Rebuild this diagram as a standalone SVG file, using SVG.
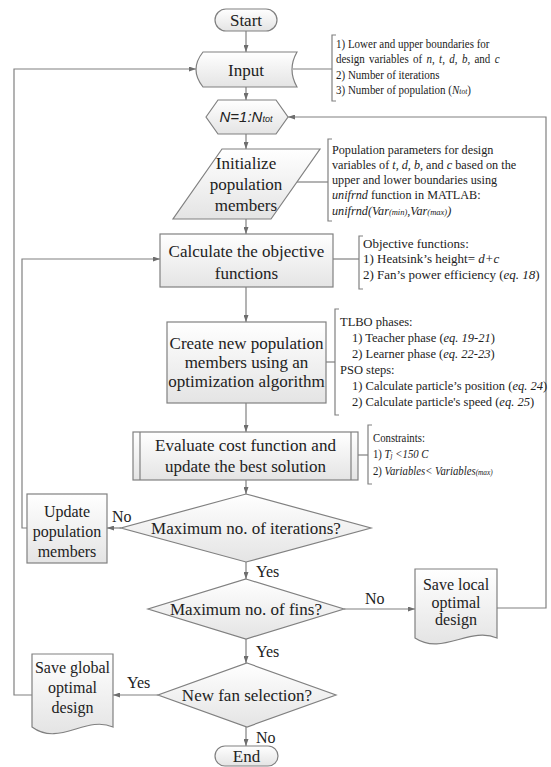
<svg xmlns="http://www.w3.org/2000/svg" width="551" height="767" viewBox="0 0 551 767">
<defs>
<linearGradient id="g" x1="0" y1="0" x2="0" y2="1">
<stop offset="0" stop-color="#ffffff"/>
<stop offset="1" stop-color="#e4e4e4"/>
</linearGradient>
<marker id="a" markerWidth="7" markerHeight="5" refX="7" refY="2.5" orient="auto" markerUnits="userSpaceOnUse">
<path d="M0,0 L7,2.5 L0,5 z" fill="#6e6e6e"/>
</marker>
</defs>
<style>
.n{fill:url(#g);stroke:#808080;stroke-width:1.2}
.t{font-family:"Liberation Serif","Times New Roman",serif;font-size:17px;fill:#222;text-anchor:middle}
.s{font-family:"Liberation Serif","Times New Roman",serif;font-size:16px;fill:#222;text-anchor:middle}
.l{font-family:"Liberation Serif","Times New Roman",serif;font-size:16px;fill:#222}
.an{font-family:"Liberation Serif","Times New Roman",serif;font-size:12.5px;fill:#222}
.i{font-style:italic}
.sm{font-size:8.5px}
.c{fill:none;stroke:#808080;stroke-width:1.2}
.ca{fill:none;stroke:#808080;stroke-width:1.2;marker-end:url(#a)}
</style>

<g id="connectors">
<path class="ca" d="M246,31 V52"/>
<path class="ca" d="M246,87 V100"/>
<path class="ca" d="M246,134 V149"/>
<path class="ca" d="M246,219 V234"/>
<path class="ca" d="M246,287 V322"/>
<path class="ca" d="M246,403 V432"/>
<path class="ca" d="M246,480 V494"/>
<path class="ca" d="M121,528 H107"/>
<path class="ca" d="M27,528 H22 V259 H160"/>
<path class="ca" d="M246,562 V579"/>
<path class="ca" d="M344,609 H415"/>
<path class="ca" d="M497,608 H546 V117 H288"/>
<path class="ca" d="M246,639 V663"/>
<path class="ca" d="M158,695 H113"/>
<path class="ca" d="M32,695 H14 V69 H196"/>
<path class="ca" d="M246,727 V746"/>
<path class="c" d="M293,69 H332"/>
<path class="c" d="M297,182 H328"/>
<path class="c" d="M333,259 H359"/>
<path class="c" d="M326,362 H335"/>
<path class="c" d="M358,455 H368"/>
<path class="c" d="M336,35 H332 V101 H336"/>
<path class="c" d="M332,139 H328 V221 H332"/>
<path class="c" d="M363,236 H359 V289 H363"/>
<path class="c" d="M339,309 H335 V415 H339"/>
<path class="c" d="M372,425 H368 V484 H372"/>
</g>

<g id="start">
<rect class="n" x="215" y="9" width="62" height="22" rx="11"/>
<text class="t" x="246" y="26">Start</text>
</g>

<g id="input">
<path class="n" d="M203,52 H297 Q287,69.5 297,87 H203 Q189,69.5 203,52 Z"/>
<text class="t" x="246" y="76">Input</text>
</g>

<g id="input-note" transform="translate(336,0) scale(0.88,1) translate(-336,0)">
<text class="an" x="336" y="48">1) Lower and upper boundaries for</text>
<text class="an" x="336" y="63.5" style="word-spacing:1.8px">design variables of <tspan class="i">n</tspan>, <tspan class="i">t</tspan>, <tspan class="i">d</tspan>, <tspan class="i">b</tspan>, and <tspan class="i">c</tspan></text>
<text class="an" x="336" y="79">2) Number of iterations</text>
<text class="an" x="336" y="94.5">3) Number of population (<tspan class="i">N</tspan><tspan class="i sm">tot</tspan>)</text>
</g>

<g id="loop">
<path class="n" d="M206,117 L218,100 H276 L288,117 L276,134 H218 Z"/>
<text x="246" y="122" style="font-family:'Liberation Sans',Arial,sans-serif;font-size:15px;font-style:italic;fill:#222;text-anchor:middle">N=1:N<tspan style="font-size:9px">tot</tspan></text>
</g>

<g id="initialize">
<path class="n" d="M222,149 H320 L271,219 H173 Z"/>
<text class="t" x="246" y="169">Initialize</text>
<text class="t" x="246" y="190">population</text>
<text class="t" x="246" y="211">members</text>
</g>

<g id="init-note">
<text class="an" style="font-size:12.2px" x="332" y="154">Population parameters for design</text>
<text class="an" style="font-size:12.2px" x="332" y="169">variables of <tspan class="i">t, d, b,</tspan> and <tspan class="i">c</tspan> based on the</text>
<text class="an" style="font-size:12.2px" x="332" y="184">upper and lower boundaries using</text>
<text class="an" style="font-size:12.2px" x="332" y="199"><tspan class="i">unifrnd</tspan> function in MATLAB:</text>
<text class="an i" style="font-size:12.2px" x="332" y="215">unifrnd(Var<tspan class="sm">(min)</tspan>,Var<tspan class="sm">(max)</tspan>)</text>
</g>

<g id="calculate">
<rect class="n" x="160" y="234" width="173" height="53"/>
<text class="t" x="246.5" y="257">Calculate the objective</text>
<text class="t" x="246.5" y="279">functions</text>
</g>

<g id="calc-note">
<text class="an" style="font-size:13px" x="363" y="248">Objective functions:</text>
<text class="an" style="font-size:13px" x="363" y="263">1) Heatsink’s height= <tspan class="i">d+c</tspan></text>
<text class="an" style="font-size:13px" x="363" y="279">2) Fan’s power efficiency (<tspan class="i">eq. 18</tspan>)</text>
</g>

<g id="create">
<rect class="n" x="167" y="322" width="159" height="81"/>
<text class="t" x="246.5" y="349">Create new population</text>
<text class="t" x="246.5" y="368">members using an</text>
<text class="t" x="246.5" y="387">optimization algorithm</text>
</g>

<g id="create-note">
<text class="an" x="340" y="326">TLBO phases:</text>
<text class="an" x="352" y="342">1) Teacher phase (<tspan class="i">eq. 19-21</tspan>)</text>
<text class="an" x="352" y="358">2) Learner phase (<tspan class="i">eq. 22-23</tspan>)</text>
<text class="an" x="340" y="374">PSO steps:</text>
<text class="an" x="352" y="390">1) Calculate particle’s position (<tspan class="i">eq. 24</tspan>)</text>
<text class="an" x="352" y="406">2) Calculate particle's speed (<tspan class="i">eq. 25</tspan>)</text>
</g>

<g id="evaluate">
<rect class="n" x="133" y="432" width="225" height="48"/>
<path class="c" d="M140,432 V480 M351,432 V480"/>
<text class="t" x="245.5" y="451">Evaluate cost function and</text>
<text class="t" x="245.5" y="472">update the best solution</text>
</g>

<g id="eval-note" transform="translate(373,0) scale(0.86,1) translate(-373,0)">
<text class="an" x="373" y="442">Constraints:</text>
<text class="an" x="373" y="458">1) <tspan class="i">T</tspan><tspan class="i sm">j</tspan><tspan class="i"> &lt;150 C</tspan></text>
<text class="an" x="373" y="475">2) <tspan class="i">Variables&lt; Variables</tspan><tspan class="i sm">(max)</tspan></text>
</g>

<g id="max-iter">
<path class="n" d="M246,494 L371,528 L246,562 L121,528 Z"/>
<text class="t" x="246" y="534">Maximum no. of iterations?</text>
</g>

<g id="update">
<rect class="n" x="27" y="494" width="80" height="69"/>
<text class="s" x="67" y="517">Update</text>
<text class="s" x="67" y="537">population</text>
<text class="s" x="67" y="557">members</text>
</g>

<g id="max-fins">
<path class="n" d="M246,579 L344,609 L246,639 L148,609 Z"/>
<text class="t" x="246" y="615">Maximum no. of fins?</text>
</g>

<g id="save-local">
<path class="n" d="M415,569 H497 V638 C470,626 442,656 415,638 Z"/>
<text class="s" x="456" y="590">Save local</text>
<text class="s" x="456" y="608">optimal</text>
<text class="s" x="456" y="625">design</text>
</g>

<g id="new-fan">
<path class="n" d="M247,663 L336,695 L247,727 L158,695 Z"/>
<text class="t" x="247" y="701">New fan selection?</text>
</g>

<g id="save-global">
<path class="n" d="M32,654 H113 V727 C86,715 59,747 32,727 Z"/>
<text class="s" x="72.5" y="673">Save global</text>
<text class="s" x="72.5" y="693">optimal</text>
<text class="s" x="72.5" y="713">design</text>
</g>

<g id="end">
<rect class="n" x="215" y="746" width="63" height="20" rx="10"/>
<text class="t" x="246.5" y="762">End</text>
</g>

<g id="labels">
<text class="l" x="112" y="522">No</text>
<text class="l" x="256" y="577">Yes</text>
<text class="l" x="365" y="604">No</text>
<text class="l" x="256" y="657">Yes</text>
<text class="l" x="127" y="688">Yes</text>
<text class="l" x="256" y="743">No</text>
</g>
</svg>
